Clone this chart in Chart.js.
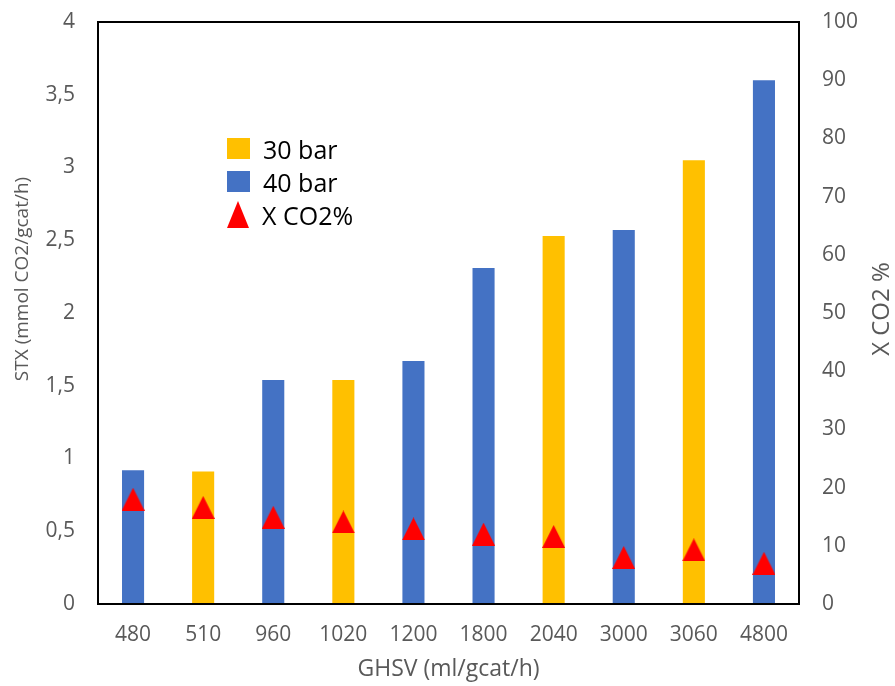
<!DOCTYPE html>
<html lang="en">
  <head>
    <meta charset="UTF-8" />
    <title>STX and X CO2 vs GHSV</title>
    <style>
      * {
        margin: 0;
        padding: 0;
        box-sizing: border-box;
        font-family: "Open Sans", sans-serif;
      }
      body {
        background: white;
      }
      .chartBox {
        position: relative;
        width: 895px;
        height: 686px;
      }
      .legend {
        position: absolute;
        left: 227px;
        top: 132px;
      }
      .legend .row {
        display: flex;
        align-items: center;
        height: 33px;
        font-size: 25px;
        color: #000;
      }
      .legend .swatch {
        width: 23px;
        height: 21px;
        margin-right: 13px;
      }
      .legend .tri {
        width: 0;
        height: 0;
        border-left: 11.5px solid transparent;
        border-right: 11.5px solid transparent;
        border-bottom: 27px solid #ff0000;
        margin-right: 13px;
      }
    </style>
  </head>
  <body>
    <div class="chartBox">
      <canvas id="myChart" width="895" height="686"></canvas>
      <div class="legend">
        <div class="row"><div class="swatch" style="background: #ffc000"></div>30 bar</div>
        <div class="row"><div class="swatch" style="background: #4472c4"></div>40 bar</div>
        <div class="row"><div class="tri"></div>X CO2%</div>
      </div>
    </div>

    <script src="https://cdn.jsdelivr.net/npm/chart.js"></script>

    <script>
      const ghsv = ["480", "510", "960", "1020", "1200", "1800", "2040", "3000", "3060", "4800"];
      const stx30bar = [null, 0.91, null, 1.54, null, null, 2.53, null, 3.05, null];
      const stx40bar = [0.92, null, 1.54, null, 1.67, 2.31, null, 2.57, null, 3.6];
      const xco2 = [18.0, 16.6, 14.9, 14.1, 12.9, 12.0, 11.6, 8.0, 9.3, 7.0];

      const tickColor = "#595959";
      const tickFont = { family: "Open Sans", size: 21 };

      // triangle marker, a bit taller than equilateral like the excel one
      const tri = document.createElement("canvas");
      tri.width = 23;
      tri.height = 23;
      const tctx = tri.getContext("2d");
      tctx.fillStyle = "#ff0000";
      tctx.beginPath();
      tctx.moveTo(11.5, 0);
      tctx.lineTo(23, 23);
      tctx.lineTo(0, 23);
      tctx.closePath();
      tctx.fill();

      const frameAndTitles = {
        id: "frameAndTitles",
        afterDraw(chart) {
          const { ctx, chartArea } = chart;
          ctx.save();
          ctx.strokeStyle = "#000";
          ctx.lineWidth = 2;
          ctx.strokeRect(
            chartArea.left,
            chartArea.top,
            chartArea.right - chartArea.left,
            chartArea.bottom - chartArea.top
          );

          ctx.fillStyle = tickColor;
          ctx.font = "19px 'Open Sans'";
          ctx.textAlign = "center";
          ctx.textBaseline = "middle";

          ctx.translate(23, 279);
          ctx.rotate(-Math.PI / 2);
          ctx.fillText("STX (mmol CO2/gcat/h)", 0, 0);
          ctx.restore();

          ctx.save();
          ctx.fillStyle = tickColor;
          ctx.font = "24px 'Open Sans'";
          ctx.textAlign = "center";
          ctx.textBaseline = "middle";
          ctx.translate(882, 309);
          ctx.rotate(-Math.PI / 2);
          ctx.fillText("X CO2 %", 0, 0);
          ctx.restore();
        },
      };

      const config = {
        data: {
          labels: ghsv,
          datasets: [
            {
              type: "line",
              label: "X CO2%",
              data: xco2,
              yAxisID: "y1",
              showLine: false,
              pointStyle: tri,
              pointRadius: 12,
              order: 0,
            },
            {
              type: "bar",
              label: "30 bar",
              data: stx30bar,
              backgroundColor: "#ffc000",
              yAxisID: "y",
              grouped: false,
              categoryPercentage: 0.315,
              barPercentage: 1,
              order: 1,
            },
            {
              type: "bar",
              label: "40 bar",
              data: stx40bar,
              backgroundColor: "#4472c4",
              yAxisID: "y",
              grouped: false,
              categoryPercentage: 0.315,
              barPercentage: 1,
              order: 1,
            },
          ],
        },
        options: {
          responsive: false,
          animation: false,
          layout: { padding: { top: 22, left: 0, right: 0, bottom: 0 } },
          plugins: {
            legend: { display: false },
            tooltip: { enabled: false },
          },
          scales: {
            x: {
              grid: { display: false, drawTicks: false },
              border: { display: false },
              ticks: { color: tickColor, font: tickFont, padding: 18 },
              title: {
                display: true,
                text: "GHSV (ml/gcat/h)",
                color: tickColor,
                font: { family: "Open Sans", size: 23 },
                padding: { top: 0, bottom: 3 },
              },
              afterFit(scale) {
                scale.height = 82;
              },
            },
            y: {
              position: "left",
              min: 0,
              max: 4,
              grid: { display: false, drawTicks: false },
              border: { display: false },
              ticks: {
                stepSize: 0.5,
                color: tickColor,
                font: tickFont,
                padding: 23,
                callback: (v) => String(v).replace(".", ","),
              },
              afterFit(scale) {
                scale.width = 98;
                scale.paddingTop = 0;
                scale.paddingBottom = 0;
              },
            },
            y1: {
              position: "right",
              min: 0,
              max: 100,
              grid: { display: false, drawTicks: false },
              border: { display: false },
              ticks: { stepSize: 10, color: tickColor, font: tickFont, padding: 23 },
              afterFit(scale) {
                scale.width = 96;
                scale.paddingTop = 0;
                scale.paddingBottom = 0;
              },
            },
          },
        },
        plugins: [frameAndTitles],
      };

      const myChart = new Chart(document.getElementById("myChart"), config);
    </script>
  </body>
</html>
